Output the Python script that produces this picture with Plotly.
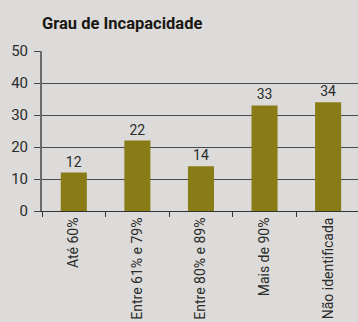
import plotly.graph_objects as go

# Disability grade distribution
categorias = ["Até 60%", "Entre 61% e 79%", "Entre 80% e 89%", "Mais de 90%", "Não identificada"]
valores = [12, 22, 14, 33, 34]

FUNDO = "#dcdbd9"
BARRA = "#897c17"
TEXTO = "#2b2b2b"
FONTE = "Roboto, sans-serif"

fig = go.Figure(
    go.Bar(
        x=categorias,
        y=valores,
        marker=dict(color=BARRA, line=dict(width=0)),
        width=0.41,
        text=[str(v) for v in valores],
        textposition="outside",
        textfont=dict(family=FONTE, size=14, color=TEXTO),
        cliponaxis=False,
    )
)

fig.update_layout(
    width=358,
    height=322,
    paper_bgcolor=FUNDO,
    plot_bgcolor=FUNDO,
    margin=dict(l=42, r=0, t=51, b=111, pad=0),
    showlegend=False,
    title=dict(
        text="<b>Grau de Incapacidade</b>",
        x=42 / 358,
        xanchor="left",
        y=1 - 23 / 322,
        yanchor="middle",
        font=dict(family=FONTE, size=16.5, color="#1a1712"),
    ),
    bargap=0.59,
)

fig.update_xaxes(
    type="category",
    range=[-0.5, 4.47],
    tickangle=-90,
    tickson="boundaries",
    ticks="outside",
    ticklen=5,
    tickwidth=1,
    tickcolor="#333333",
    tickfont=dict(family=FONTE, size=14, color=TEXTO),
    showline=True,
    linecolor="#333333",
    linewidth=1,
    showgrid=False,
    automargin=False,
)

fig.update_yaxes(
    range=[0, 50],
    tickvals=[0, 10, 20, 30, 40, 50],
    ticks="outside",
    ticklen=6,
    tickwidth=1,
    tickcolor="#444444",
    tickfont=dict(family=FONTE, size=15, color=TEXTO),
    ticklabelstandoff=3,
    showline=True,
    linecolor="#6b6b6b",
    linewidth=2,
    showgrid=True,
    gridcolor="#4a4a4a",
    gridwidth=1,
    zeroline=False,
    automargin=False,
)

fig.write_html("out.html")
